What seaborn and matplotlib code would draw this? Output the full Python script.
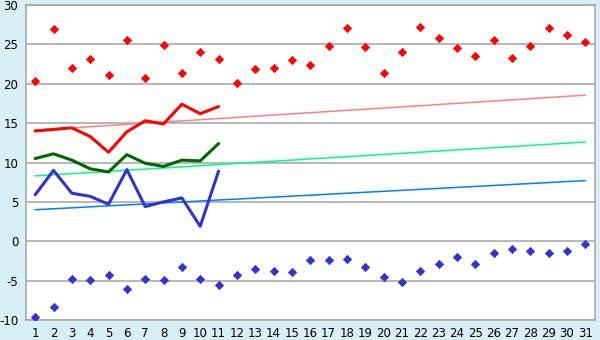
import numpy as np
import pandas as pd
import matplotlib
matplotlib.use("Agg")
import matplotlib.pyplot as plt
import seaborn as sns

days = list(range(1, 32))
max_temp = [20.3, 26.9, 22.0, 23.1, 21.1, 25.5, 20.7, 24.9, 21.4, 24.0,
            23.1, 20.1, 21.9, 22.0, 23.0, 22.4, 24.8, 27.1, 24.7, 21.4,
            24.0, 27.2, 25.8, 24.5, 23.5, 25.5, 23.3, 24.8, 27.1, 26.2, 25.3]
min_temp = [-9.6, -8.4, -4.8, -4.9, -4.3, -6.0, -4.8, -4.9, -3.3, -4.8,
            -5.6, -4.3, -3.5, -3.8, -3.9, -2.4, -2.4, -2.3, -3.3, -4.6,
            -5.2, -3.8, -2.9, -2.0, -2.9, -1.5, -1.0, -1.3, -1.5, -1.3, -0.4]
line_days = list(range(1, 12))
max_line = [14.0, 14.2, 14.4, 13.3, 11.3, 13.9, 15.3, 14.9, 17.4, 16.2, 17.1]
mean_line = [10.5, 11.1, 10.3, 9.2, 8.8, 11.0, 9.9, 9.5, 10.3, 10.2, 12.4]
min_line = [5.9, 9.0, 6.1, 5.7, 4.7, 9.1, 4.4, 5.0, 5.5, 1.9, 8.9]
trend_days = [1, 31]
max_trend = [14.1, 18.55]
mean_trend = [8.3, 12.6]
min_trend = [4.0, 7.7]
y_ticks = [-10, -5, 0, 5, 10, 15, 20, 25, 30]

sns.set_style("white")
plt.rcParams['font.family'] = ['DejaVu Sans']

fig = plt.figure(figsize=(6, 3.4), dpi=100)
fig.patch.set_facecolor('#d9eff6')
ax = fig.add_axes([26/600, 1-320/340, (595-26)/600, 315/340])
ax.set_facecolor('white')

for yt in y_ticks:
    ax.axhline(yt, color='#aaaaaa', lw=1.2, zorder=0)

sns.lineplot(x=trend_days, y=max_trend, color='#ff8080', lw=1.1, ax=ax)
sns.lineplot(x=trend_days, y=mean_trend, color='#00ff80', lw=1.1, ax=ax)
sns.lineplot(x=trend_days, y=min_trend, color='#0080ff', lw=1.1, ax=ax)

sns.lineplot(x=line_days, y=max_line, color='#ff0000', lw=2.2, ax=ax)
sns.lineplot(x=line_days, y=mean_line, color='#006400', lw=2.2, ax=ax)
sns.lineplot(x=line_days, y=min_line, color='#3333cc', lw=2.2, ax=ax)

sns.scatterplot(x=days, y=max_temp, color='#ff0000', marker='D', s=18,
                edgecolor='#ff0000', linewidth=0.5, ax=ax, zorder=5)
sns.scatterplot(x=days, y=min_temp, color='#3333cc', marker='D', s=18,
                edgecolor='#3333cc', linewidth=0.5, ax=ax, zorder=5)

ax.set_xlim(0.5, 31.53)
ax.set_ylim(-10, 30)
ax.set_xticks(days)
ax.set_xticklabels([str(d) for d in days])
ax.set_yticks(y_ticks)
ax.set_yticklabels([str(v) for v in y_ticks])
for s in ax.spines.values():
    s.set_color('#aaaaaa')
    s.set_linewidth(1.2)
ax.tick_params(axis='both', direction='out', length=4, width=1,
               color='#555555', labelsize=8.5, labelcolor='black', pad=1.5)
ax.tick_params(axis='x', pad=1)

fig.savefig('out.png', dpi=100, facecolor=fig.get_facecolor())
